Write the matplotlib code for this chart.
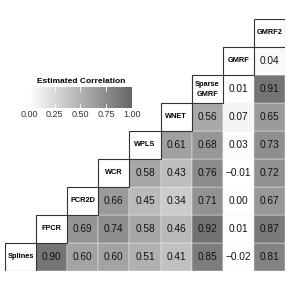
import numpy as np
import matplotlib

matplotlib.use("Agg")
import matplotlib.pyplot as plt
from matplotlib.colors import LinearSegmentedColormap, Normalize

methods = ["Splines", "FPCR", "PCR2D", "WCR", "WPLS", "WNET",
           "Sparse\nGMRF", "GMRF", "GMRF2"]

# upper-triangle correlations, row i = method i against methods i+1..end
row_splines = [0.90, 0.60, 0.60, 0.51, 0.41, 0.85, -0.02, 0.81]
row_fpcr = [0.69, 0.74, 0.58, 0.46, 0.92, 0.01, 0.87]
row_pcr2d = [0.66, 0.45, 0.34, 0.71, 0.00, 0.67]
row_wcr = [0.58, 0.43, 0.76, -0.01, 0.72]
row_wpls = [0.61, 0.68, 0.03, 0.73]
row_wnet = [0.56, 0.07, 0.65]
row_sgmrf = [0.01, 0.91]
row_gmrf = [0.04]
rows = [row_splines, row_fpcr, row_pcr2d, row_wcr, row_wpls, row_wnet,
        row_sgmrf, row_gmrf, []]

cbar_ticks = [0.00, 0.25, 0.50, 0.75, 1.00]

plt.rcParams["font.family"] = ["Liberation Sans", "DejaVu Sans"]
cmap = LinearSegmentedColormap.from_list("wg", ["#ffffff", "#666666"])
norm = Normalize(0, 1)

fig = plt.figure(figsize=(2.91, 2.91), dpi=100)
ax = fig.add_axes([5 / 291, 20 / 291, 280 / 291, 252 / 291])
n = len(methods)
ax.set_xlim(0, n)
ax.set_ylim(0, n)
ax.axis("off")

for i, vals in enumerate(rows):
    # label cell on the diagonal
    ax.add_patch(plt.Rectangle((i, i), 1, 1, facecolor="white",
                               edgecolor="#333333", lw=0.8, zorder=3))
    ax.text(i + 0.5, i + 0.5, methods[i], ha="center", va="center",
            fontsize=5.3, fontweight="bold", linespacing=1.6, zorder=4)
    for k, v in enumerate(vals):
        j = i + 1 + k
        ax.add_patch(plt.Rectangle((j, i), 1, 1,
                                   facecolor=cmap(norm(max(v, 0))),
                                   edgecolor="#f4f4f4", lw=0.3, zorder=1))
        txt = f"{v:.2f}".replace("-", "\u2212")
        ax.text(j + 0.5, i + 0.5, txt, ha="center", va="center",
                fontsize=7.3, color="#111111", zorder=2)

# colour legend
cax = fig.add_axes([28 / 291, (291 - 108) / 291, 106 / 291, 21 / 291])
grad = np.linspace(0, 1, 256)[None, :]
cax.imshow(grad, aspect="auto", cmap=cmap, norm=norm, extent=(0, 1, 0, 1))
for t in cbar_ticks:
    cax.plot([t, t], [0, 0.18], color="white", lw=0.6)
    cax.plot([t, t], [0.82, 1], color="white", lw=0.6)
cax.set_xlim(-0.01, 1.02)
cax.set_ylim(0, 1)
cax.set_xticks(cbar_ticks)
cax.set_xticklabels([f"{t:.2f}" for t in cbar_ticks], fontsize=6.5,
                    color="#333333")
cax.tick_params(axis="x", length=0, pad=1.5)
cax.set_yticks([])
for s in cax.spines.values():
    s.set_visible(False)
cax.set_title("Estimated Correlation", fontsize=6, fontweight="bold", pad=3)

fig.savefig("out.png", dpi=100)
